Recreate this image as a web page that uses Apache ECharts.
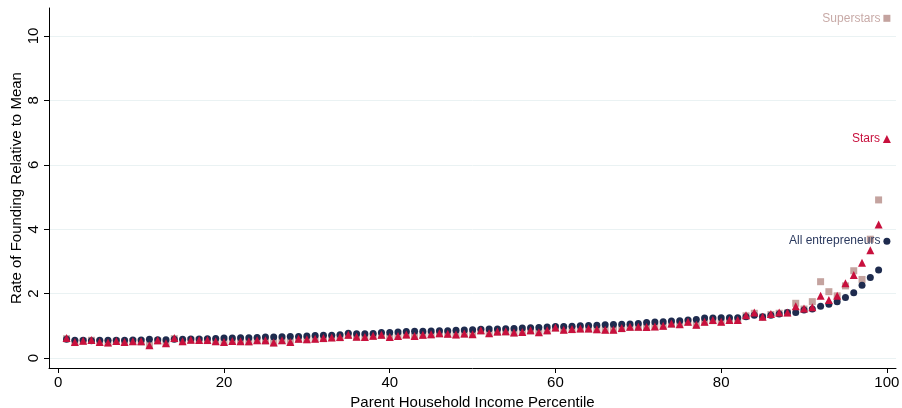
<!DOCTYPE html>
<html>
<head>
<meta charset="utf-8">
<script src="https://cdn.jsdelivr.net/npm/echarts@6/dist/echarts.min.js"></script>
<style>html,body{margin:0;padding:0;background:#fff;}#c{width:902px;height:408px;}</style>
</head>
<body>
<div id="c"></div>
<script>
const percentiles = Array.from({length: 100}, (_, i) => i + 1);
const allEntrepreneurs = [
  0.58, 0.55, 0.55, 0.54, 0.55, 0.55, 0.55, 0.55, 0.56, 0.56,
  0.58, 0.57, 0.57, 0.58, 0.58, 0.59, 0.59, 0.60, 0.61, 0.62,
  0.62, 0.63, 0.63, 0.64, 0.65, 0.65, 0.66, 0.67, 0.67, 0.68,
  0.70, 0.71, 0.71, 0.72, 0.77, 0.75, 0.75, 0.76, 0.79, 0.79,
  0.81, 0.82, 0.83, 0.83, 0.84, 0.85, 0.85, 0.86, 0.87, 0.88,
  0.89, 0.90, 0.90, 0.91, 0.92, 0.93, 0.94, 0.95, 0.96, 0.98,
  0.98, 0.99, 1.00, 1.01, 1.02, 1.03, 1.04, 1.05, 1.06, 1.07,
  1.10, 1.12, 1.13, 1.15, 1.16, 1.18, 1.20, 1.24, 1.24, 1.25,
  1.25, 1.25, 1.28, 1.33, 1.28, 1.33, 1.37, 1.41, 1.41, 1.49,
  1.52, 1.61, 1.67, 1.75, 1.88, 2.03, 2.26, 2.50, 2.73, 3.63
];
const stars = [
  0.62, 0.50, 0.54, 0.56, 0.50, 0.48, 0.53, 0.50, 0.52, 0.52,
  0.40, 0.55, 0.46, 0.62, 0.52, 0.57, 0.56, 0.56, 0.52, 0.50,
  0.53, 0.52, 0.52, 0.55, 0.55, 0.48, 0.55, 0.50, 0.60, 0.58,
  0.60, 0.62, 0.64, 0.65, 0.72, 0.66, 0.65, 0.69, 0.72, 0.65,
  0.68, 0.73, 0.68, 0.72, 0.74, 0.77, 0.75, 0.73, 0.76, 0.74,
  0.86, 0.77, 0.82, 0.83, 0.79, 0.81, 0.86, 0.80, 0.86, 0.95,
  0.88, 0.90, 0.92, 0.92, 0.89, 0.88, 0.88, 0.93, 0.97, 0.97,
  0.96, 0.98, 1.00, 1.07, 1.05, 1.13, 1.03, 1.13, 1.18, 1.13,
  1.18, 1.18, 1.33, 1.41, 1.28, 1.37, 1.41, 1.41, 1.61, 1.54,
  1.58, 1.93, 1.80, 1.93, 2.32, 2.58, 2.96, 3.35, 4.15, 6.80
];
const superstars = [
  0.60, 0.48, 0.52, 0.55, 0.49, 0.47, 0.52, 0.49, 0.51, 0.50,
  0.40, 0.53, 0.45, 0.60, 0.51, 0.55, 0.55, 0.54, 0.51, 0.49,
  0.52, 0.51, 0.50, 0.54, 0.53, 0.47, 0.54, 0.49, 0.58, 0.57,
  0.59, 0.60, 0.63, 0.63, 0.70, 0.65, 0.64, 0.67, 0.70, 0.64,
  0.67, 0.71, 0.67, 0.70, 0.72, 0.75, 0.74, 0.72, 0.74, 0.73,
  0.84, 0.76, 0.80, 0.81, 0.78, 0.80, 0.84, 0.79, 0.84, 0.93,
  0.87, 0.88, 0.90, 0.90, 0.88, 0.87, 0.87, 0.91, 0.95, 0.95,
  0.95, 0.97, 0.98, 1.05, 1.04, 1.11, 1.02, 1.11, 1.16, 1.12,
  1.17, 1.17, 1.31, 1.39, 1.27, 1.35, 1.39, 1.40, 1.70, 1.52,
  1.75, 2.37, 2.06, 1.93, 2.24, 2.71, 2.44, 3.69, 4.91, 10.55
];
const xTicks = [0, 20, 40, 60, 80, 100];
const yTicks = [0, 2, 4, 6, 8, 10];
const seriesNames = ['Superstars', 'Stars', 'All entrepreneurs'];

const FONT = 'Liberation Sans, Arial, Helvetica, sans-serif';
function build(values, name, color) {
  return values.map((v, i) => {
    const item = { value: [percentiles[i], v] };
    if (i === values.length - 1) {
      item.label = { show: true, formatter: name, position: 'left', distance: 3,
        color: color, fontSize: 12, fontFamily: FONT };
    }
    return item;
  });
}

const chart = echarts.init(document.getElementById('c'), null, { renderer: 'canvas' });
chart.setOption({
  animation: false,
  backgroundColor: '#ffffff',
  grid: { left: 49, right: 6, top: 8, bottom: 40, containLabel: false, outerBoundsMode: 'none' },
  xAxis: {
    type: 'value', min: -1.12, max: 101.1,
    name: 'Parent Household Income Percentile', nameLocation: 'middle', nameGap: 25,
    nameTextStyle: { fontFamily: FONT, fontSize: 15, color: '#000' },
    axisLine: { show: true, onZero: false, lineStyle: { color: '#000', width: 1 } },
    axisTick: { show: true, length: 5, customValues: xTicks, lineStyle: { color: '#000' } },
    axisLabel: { customValues: xTicks, fontFamily: FONT, fontSize: 15, color: '#000', margin: 7 },
    splitLine: { show: false }
  },
  yAxis: {
    type: 'value', min: -0.31, max: 10.87,
    name: 'Rate of Founding Relative to Mean', nameLocation: 'middle', nameGap: 25,
    nameMoveOverlap: false,
    nameTextStyle: { fontFamily: FONT, fontSize: 15, color: '#000' },
    axisLine: { show: true, onZero: false, lineStyle: { color: '#000', width: 1 } },
    axisTick: { show: true, length: 5, customValues: yTicks, lineStyle: { color: '#000' } },
    axisLabel: { customValues: yTicks, rotate: 90, fontFamily: FONT, fontSize: 15, color: '#000', margin: 8 },
    splitLine: { show: true, lineStyle: { color: '#eaf2f3', width: 1 } }
  },
  series: [
    { name: seriesNames[0], type: 'scatter', symbol: 'rect', symbolSize: 7, z: 2,
      itemStyle: { color: '#c4a39f', opacity: 1 }, data: build(superstars, seriesNames[0], '#c8aaa7') },
    { name: seriesNames[2], type: 'scatter', symbol: 'circle', symbolSize: 7, z: 3,
      itemStyle: { color: '#1e2b4e', opacity: 1 }, data: build(allEntrepreneurs, seriesNames[2], '#2c3a5f') },
    { name: seriesNames[1], type: 'scatter', symbol: 'triangle', symbolSize: 8, z: 4,
      itemStyle: { color: '#c8103d', opacity: 1 }, data: build(stars, seriesNames[1], '#c8103d') }
  ]
});
</script>
</body>
</html>
